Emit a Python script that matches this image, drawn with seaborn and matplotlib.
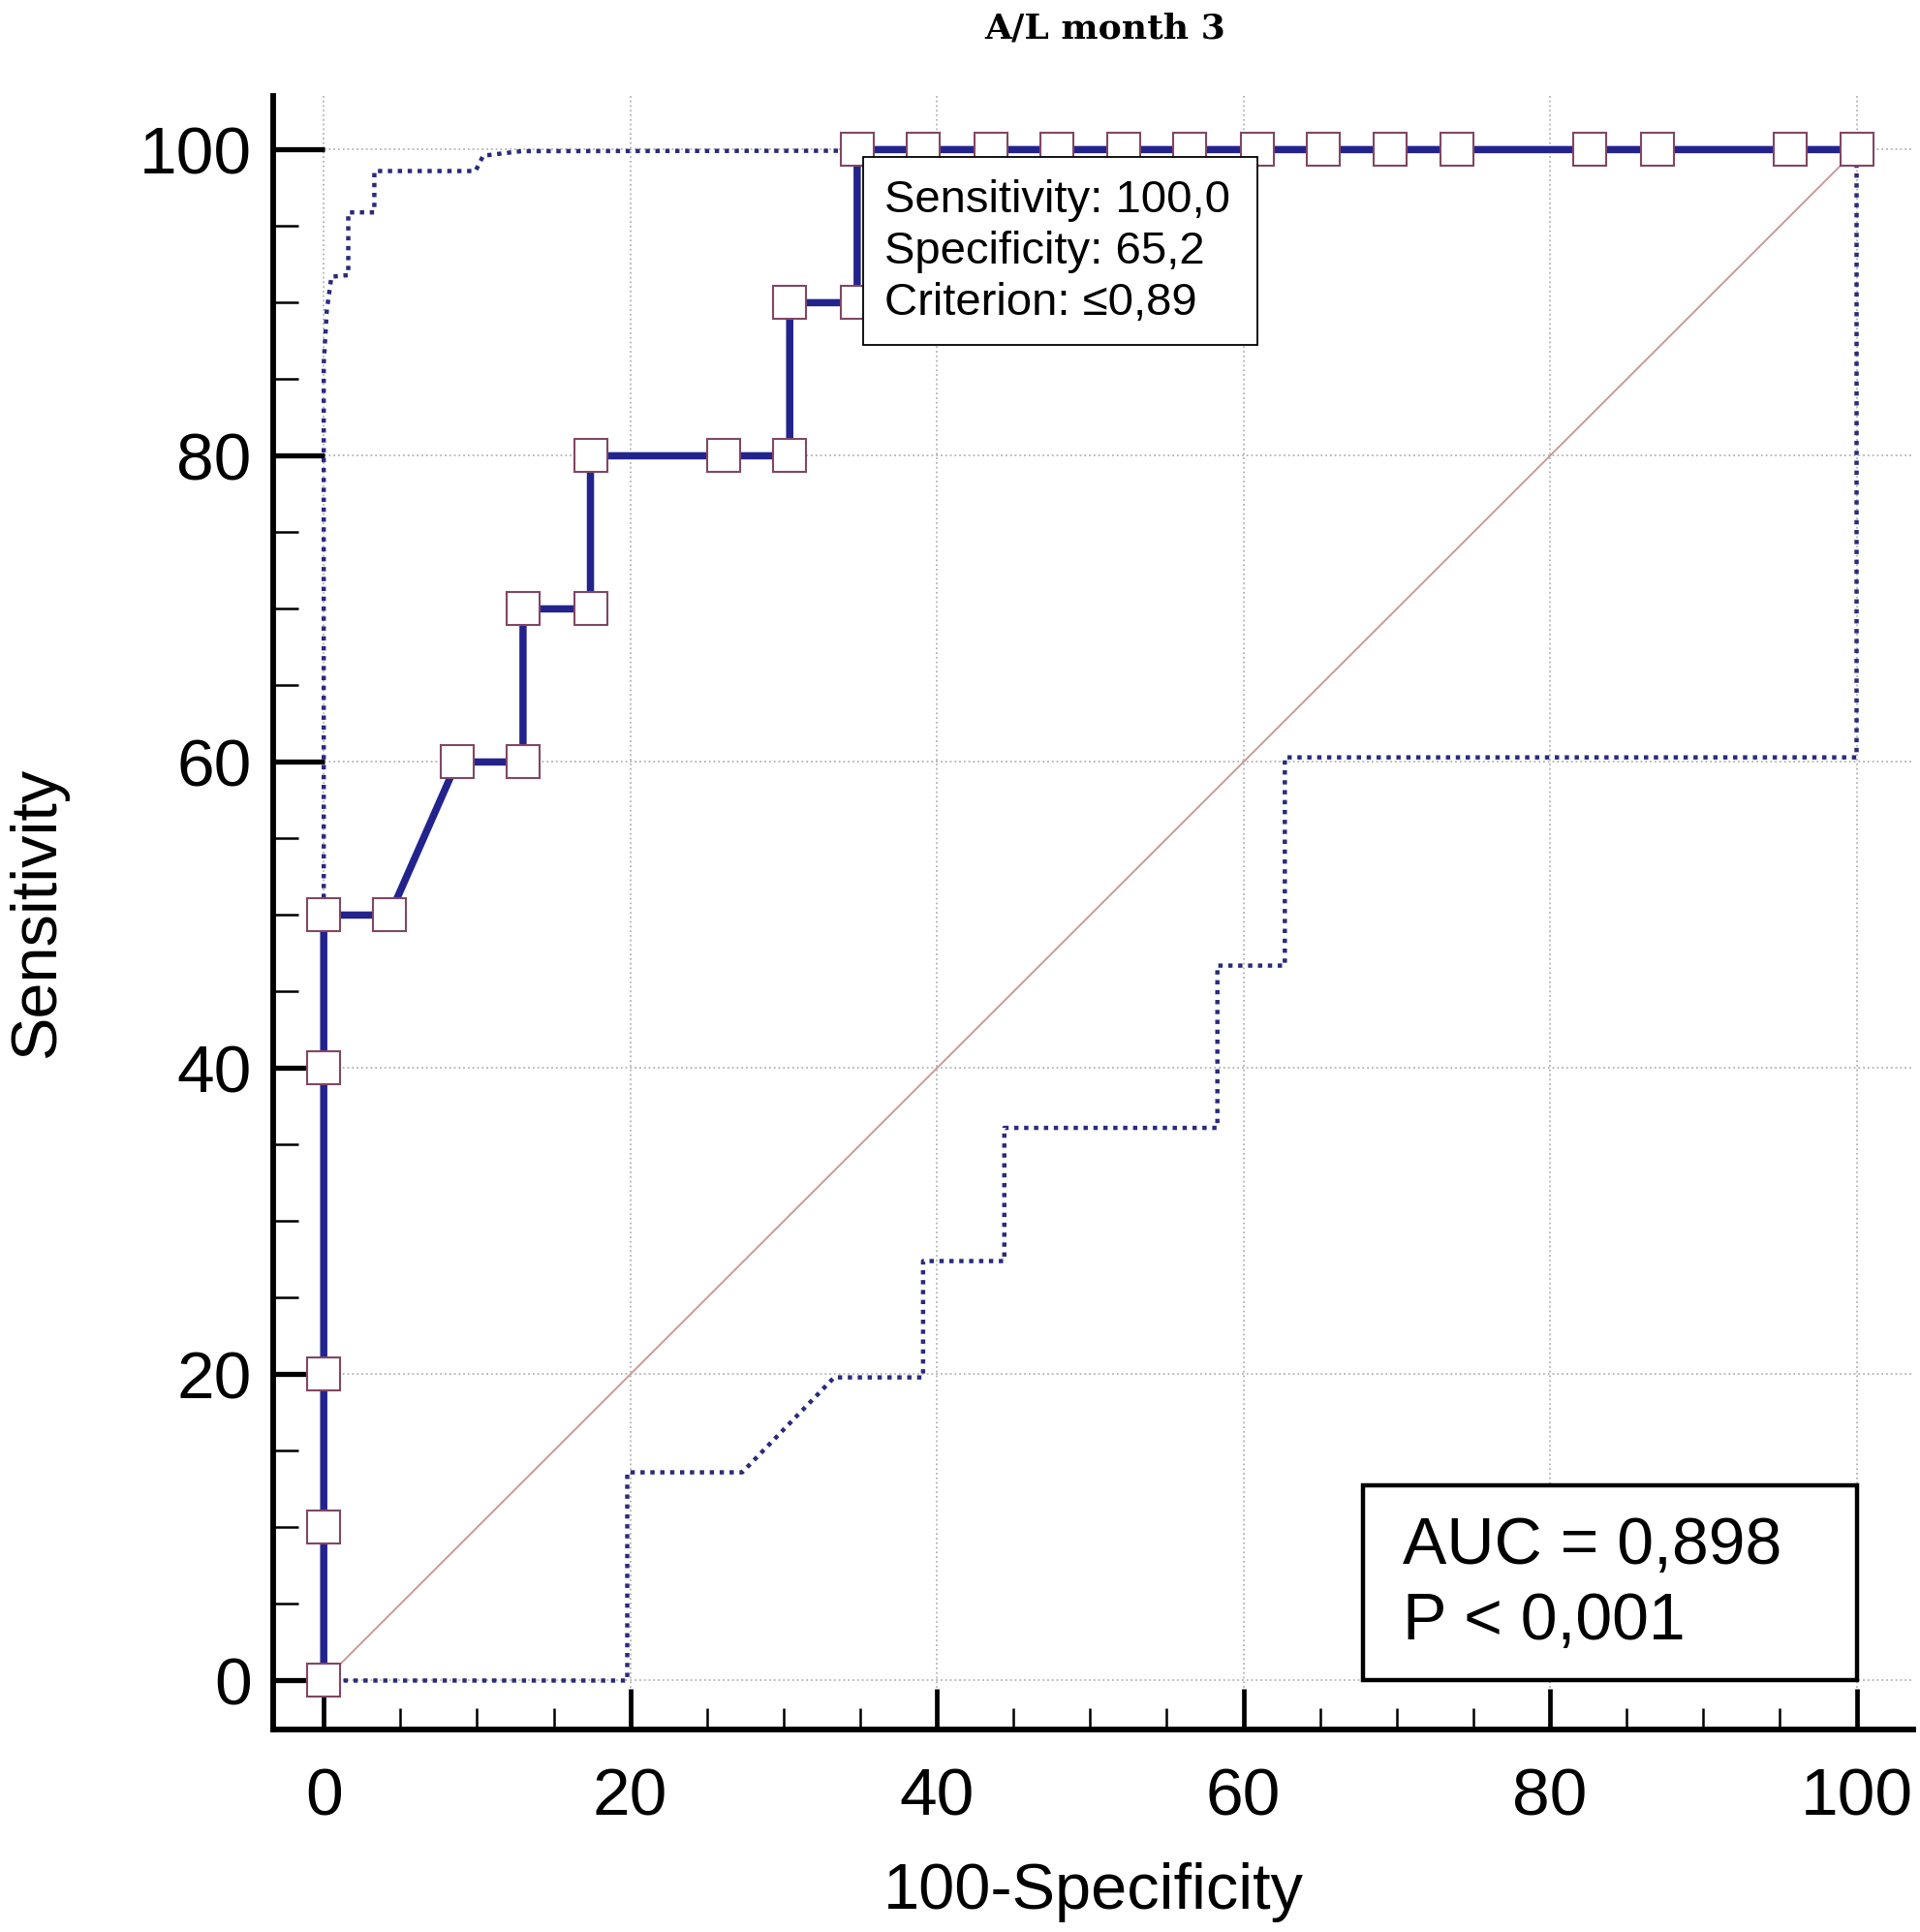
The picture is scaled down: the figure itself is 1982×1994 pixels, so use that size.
import numpy as np
import pandas as pd
import matplotlib
matplotlib.use('Agg')
import matplotlib.pyplot as plt
from matplotlib.patches import Rectangle
from matplotlib.ticker import MultipleLocator
import seaborn as sns

sns.set_style('ticks')
plt.rcParams['font.family'] = ['Liberation Sans', 'DejaVu Sans']
plt.rcParams['text.color'] = 'black'
plt.rcParams['axes.labelcolor'] = 'black'

# ROC points (100-Specificity, Sensitivity)
roc_fpr = [0, 0, 0, 0, 0, 4.3, 8.7, 13.0, 13.0, 17.4, 17.4, 26.1, 30.4, 30.4, 34.8,
           34.8, 39.1, 43.5, 47.8, 52.2, 56.5, 60.9, 65.2, 69.6, 73.9, 82.6, 87.0,
           95.7, 100]
roc_tpr = [0, 10, 20, 40, 50, 50, 60, 60, 70, 70, 80, 80, 80, 90, 90,
           100, 100, 100, 100, 100, 100, 100, 100, 100, 100, 100, 100,
           100, 100]

# 95% confidence bounds (dotted)
upper_x = [0, 0, 0.2, 0.5, 1.6, 1.6, 3.3, 3.3, 9.9, 10.4, 12.9, 100]
upper_y = [0, 86, 89.5, 91.7, 91.8, 95.9, 95.9, 98.6, 98.6, 99.6, 99.9, 100]
lower_x = [0, 19.8, 19.8, 27.3, 33.3, 39.1, 39.1, 44.4, 44.4, 58.3, 58.3, 62.7, 62.7, 100, 100]
lower_y = [0, 0, 13.6, 13.6, 19.8, 19.8, 27.4, 27.4, 36.1, 36.1, 46.7, 46.7, 60.3, 60.3, 100]

diag = [0, 100]

major_ticks = [0, 20, 40, 60, 80, 100]

cutoff_text = 'Sensitivity: 100,0\nSpecificity: 65,2\nCriterion: \u22640,89'
auc_text = 'AUC = 0,898\nP < 0,001'

roc_df = pd.DataFrame({'fpr': roc_fpr, 'tpr': roc_tpr})
upper_df = pd.DataFrame({'x': upper_x, 'y': upper_y})
lower_df = pd.DataFrame({'x': lower_x, 'y': lower_y})

fig = plt.figure(figsize=(19.83, 19.94), dpi=100)
ax = fig.add_axes([0.1422, 0.1048, 0.8538, 0.8455])

navy = '#23238e'
ci_color = '#2a2a7c'

# reference diagonal
ax.plot(diag, diag, color='#c99a9a', linewidth=1.4, zorder=2)

# confidence bounds
dots = (0, (1, 1.3))
sns.lineplot(data=upper_df, x='x', y='y', sort=False, estimator=None, ax=ax,
             color=ci_color, linewidth=3.2, linestyle=dots, zorder=3)
sns.lineplot(data=lower_df, x='x', y='y', sort=False, estimator=None, ax=ax,
             color=ci_color, linewidth=3.2, linestyle=dots, zorder=3)

# ROC curve
sns.lineplot(data=roc_df, x='fpr', y='tpr', sort=False, estimator=None, ax=ax,
             color=navy, linewidth=5.4, marker='s', markersize=25,
             markerfacecolor='white', markeredgecolor='#824664',
             markeredgewidth=1.5, zorder=4, clip_on=False)

ax.set_xlim(-3.3, 103.7)
ax.set_ylim(-3.2, 103.5)

ax.set_xticks(major_ticks)
ax.set_yticks(major_ticks)
ax.xaxis.set_minor_locator(MultipleLocator(5))
ax.yaxis.set_minor_locator(MultipleLocator(5))

ax.grid(which='major', color='#b4b4b4', linestyle=':', linewidth=1.3, zorder=0)
ax.set_axisbelow(True)

for side in ['top', 'right']:
    ax.spines[side].set_visible(False)
for side in ['left', 'bottom']:
    ax.spines[side].set_linewidth(4.2)
    ax.spines[side].set_color('black')

ax.tick_params(which='both', bottom=True, left=True, top=False, right=False)
ax.tick_params(axis='x', which='major', direction='in', length=30, width=3.4,
               labelsize=50, pad=28, colors='black')
ax.tick_params(axis='x', which='minor', direction='in', length=16, width=1.8,
               colors='black')
ax.tick_params(axis='y', which='major', direction='in', length=38, width=3.8,
               labelsize=50, pad=16, colors='black')
ax.tick_params(axis='y', which='minor', direction='in', length=19, width=1.8,
               colors='black')

ax.set_xlabel('100-Specificity', fontsize=48, color='black')
ax.set_ylabel('Sensitivity', fontsize=48, color='black')
ax.xaxis.set_label_coords(0.5, -0.081)
ax.xaxis.label.set_va('top')
ax.yaxis.set_label_coords(-0.125, 0.5)

# criterion box
ax.add_patch(Rectangle((35.2, 87.25), 25.7, 12.25, facecolor='white',
                       edgecolor='black', linewidth=1.3, zorder=6))
ax.text(36.6, 93.3, cutoff_text, fontsize=34, va='center', ha='left',
        linespacing=1.26, color='black', zorder=7)

# AUC box
ax.add_patch(Rectangle((67.8, 0), 32.2, 12.75, facecolor='white',
                       edgecolor='black', linewidth=3.2, zorder=6))
ax.text(70.4, 6.3, auc_text, fontsize=49, va='center', ha='left',
        linespacing=1.28, color='black', zorder=7)

fig.text(0.575, 0.985, 'A/L month 3', fontsize=26, fontweight='bold',
         family=['DejaVu Serif'], ha='center', va='center', color='black')

fig.savefig('out.png', dpi=100)
